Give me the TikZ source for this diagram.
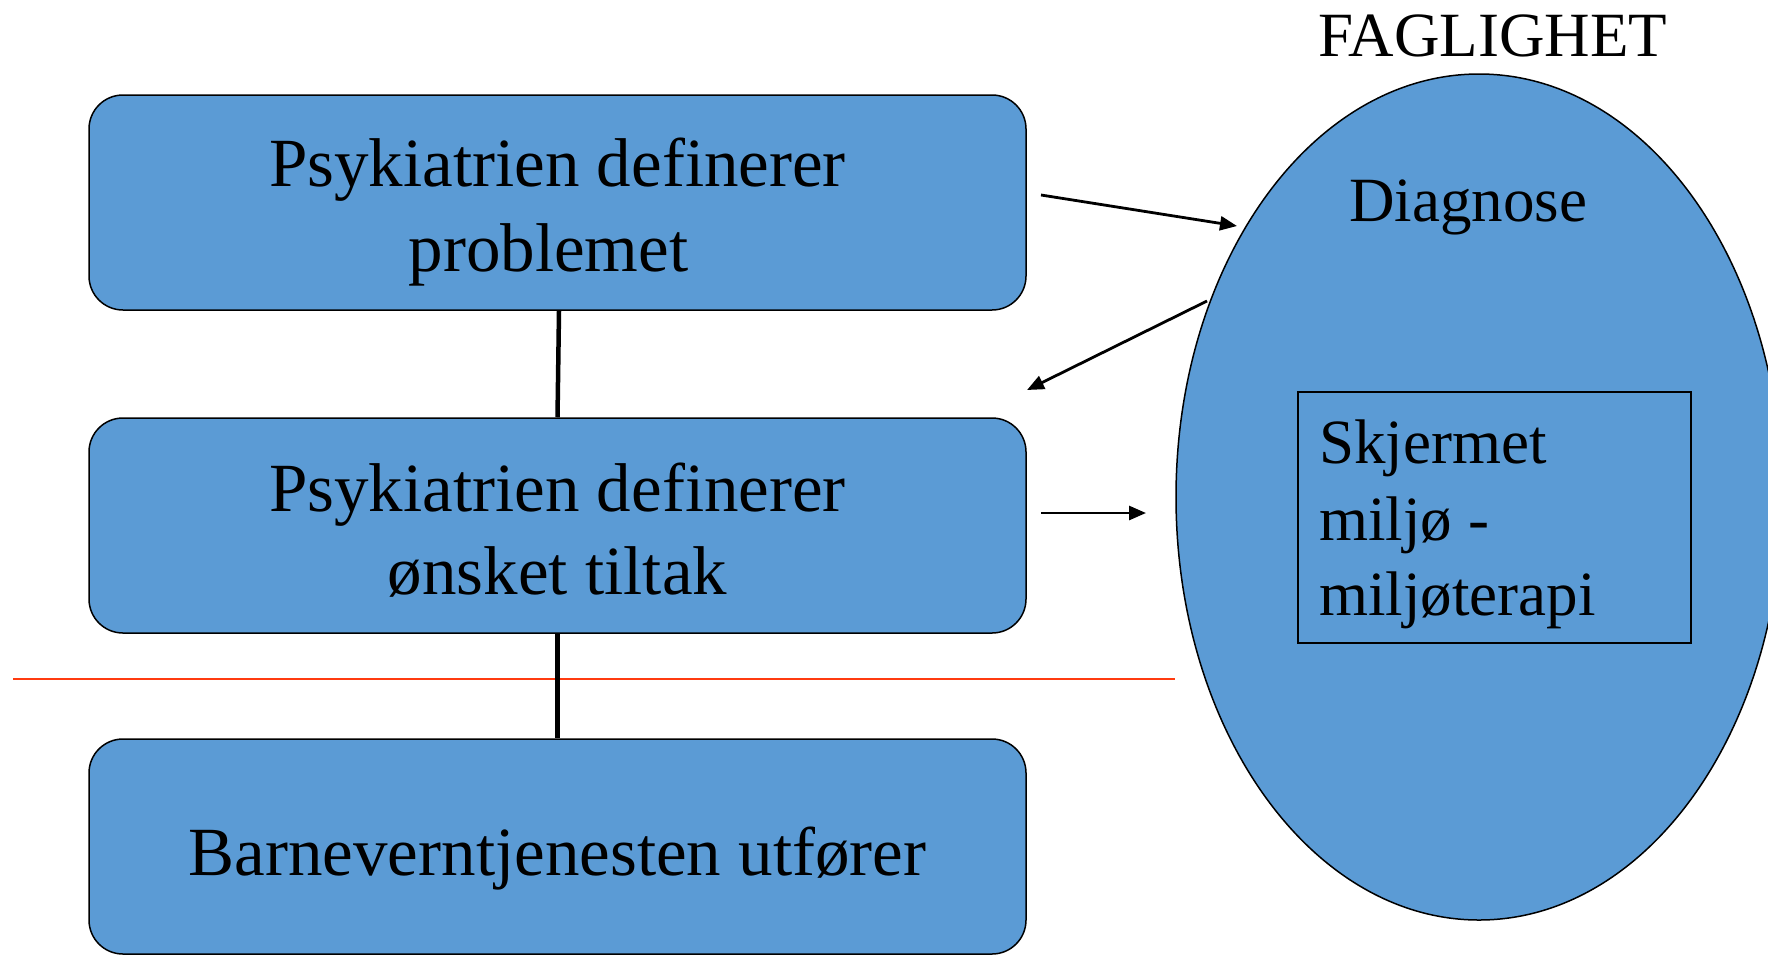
\documentclass[tikz,border=0pt]{standalone}
\usepackage{fontspec}
\setmainfont{Liberation Serif}
\usetikzlibrary{arrows.meta,shapes.geometric}
\definecolor{boxblue}{RGB}{91,155,213}
\definecolor{cutred}{RGB}{255,59,16}
\begin{document}
\begin{tikzpicture}[x=1pt,y=-1pt,
  stage/.style={draw=black,line width=1.5pt,fill=boxblue,rounded corners=34pt,
    minimum width=937pt,minimum height=215pt,inner sep=0pt},
  big/.style={font=\fontsize{69}{85}\selectfont,anchor=base,inner sep=0pt},
  mid/.style={font=\fontsize{63}{76}\selectfont,anchor=base,inner sep=0pt},
  link/.style={line width=4.5pt},
  flow/.style={line width=2.8pt,-{Triangle[length=17pt,width=14pt]}}]
\useasboundingbox (0,0) rectangle (1768,954);
\clip (0,0) rectangle (1768,954);

% the three stages of the process
\node[stage] (b1) at (557.5,202.5) {};
\node[stage] (b2) at (557.5,525.5) {};
\node[stage] (b3) at (557.5,846.5) {};

% professional domain
\node[draw=black,line width=1.5pt,fill=boxblue,ellipse,inner sep=0pt,
  minimum width=606pt,minimum height=846pt] (fag) at (1479,497) {};
\node[draw=black,line width=2pt,rectangle,inner sep=0pt,
  minimum width=393pt,minimum height=251pt] (env) at (1494.5,517.5) {};

% dividing line
\coordinate (cutl) at (13,679);
\draw[cutred,line width=2pt] (cutl) -- (fag.west |- cutl);

% links between the stages
\draw[link] ([xshift=1.5pt]b1.south) -- (b2.north);
\draw[link] (b2.south) -- (b3.north);

% stage texts
\node[big] (t1a) at (557.5,186) {Psykiatrien definerer};
\node[big] (t1b) at (548.5,271) {problemet};
\node[big] (t2a) at (557.5,511) {Psykiatrien definerer};
\node[big] (t2b) at (557.5,594) {ønsket tiltak};
\node[big] (t3) at (557.5,875) {Barneverntjenesten utfører};

% domain texts
\node[mid] (title) at (1493,56) {FAGLIGHET};
\node[mid] (diag) at (1468,221) {Diagnose};
\node[mid,anchor=base west] (e1) at (1319,463) {Skjermet};
\node[mid,anchor=base west] (e2) at (1319,540) {miljø -};
\node[mid,anchor=base west] (e3) at (1319,615) {miljøterapi};

% arrows between the stages and the domain
\coordinate (a1s) at (1041,195);
\coordinate (a1e) at (1237,226);
\coordinate (a2s) at (1207,301);
\coordinate (a2e) at (1027,390);
\coordinate (a3s) at (1041,513);
\coordinate (a3e) at (1146,513);
\draw[flow] (a1s) -- (a1e);
\draw[flow] (a2s) -- (a2e);
\draw[flow] (a3s) -- (a3e);
\end{tikzpicture}
\end{document}
